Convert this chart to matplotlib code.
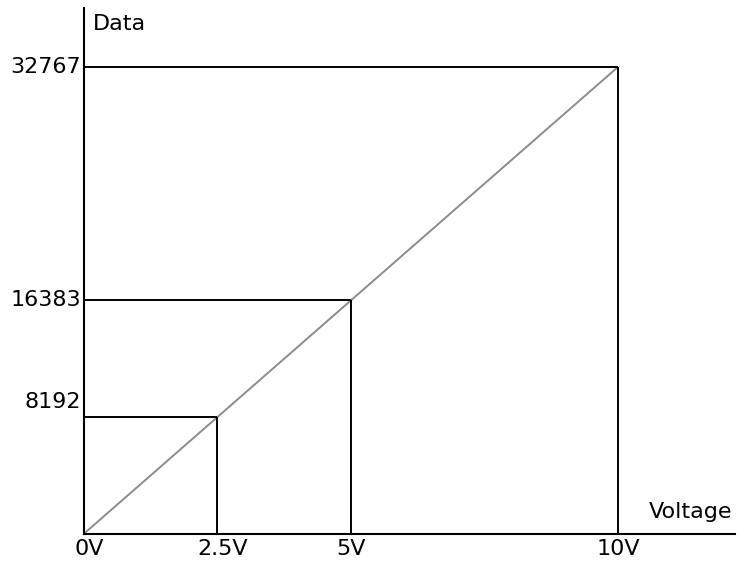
import matplotlib
matplotlib.use("Agg")
import matplotlib.pyplot as plt

# reference points on the line
voltages = [2.5, 5, 10]
data_values = [8192, 16383, 32767]
volt_ticks = [0, 2.5, 5, 10]
volt_labels = ["0V", "2.5V", "5V", "10V"]
data_labels = ["8192", "16383", "32767"]

plt.rcParams['font.family'] = ['DejaVu Sans']

fig = plt.figure(figsize=(7.38, 5.62), dpi=100)
ax = fig.add_axes([0.1138, 0.0504, 0.882, 0.9354])
ax.set_xlim(0, 12.19)
ax.set_ylim(0, 36910)

for s in ["top", "right"]:
    ax.spines[s].set_visible(False)
for s in ["left", "bottom"]:
    ax.spines[s].set_linewidth(1.5)
    ax.spines[s].set_color("black")
ax.set_xticks([])
ax.set_yticks([])

# gray transfer line
ax.plot([0, voltages[-1]], [0, data_values[-1]], color="#8c8c8c", lw=1.4,
        solid_capstyle="butt")

# guide boxes
for v, d in zip(voltages, data_values):
    ax.plot([0, v], [d, d], color="black", lw=1.4, solid_capstyle="butt")
    ax.plot([v, v], [0, d], color="black", lw=1.4, solid_capstyle="butt")

fs = 16
for v, lab in zip(volt_ticks, volt_labels):
    shift = 0.1 if v in (0, 2.5) else 0
    ax.text(v + shift, -400, lab, ha="center", va="top", fontsize=fs, clip_on=False)

for d, lab in zip(data_values, data_labels):
    if d == 8192:
        ax.text(-0.05, d + 350, lab, ha="right", va="bottom", fontsize=fs, clip_on=False)
    else:
        ax.text(-0.05, d, lab, ha="right", va="center", fontsize=fs, clip_on=False)

ax.text(0.17, 36500, "Data", ha="left", va="top", fontsize=fs)
ax.text(12.15, 800, "Voltage", ha="right", va="bottom", fontsize=fs)

fig.savefig("out.png", dpi=100)
